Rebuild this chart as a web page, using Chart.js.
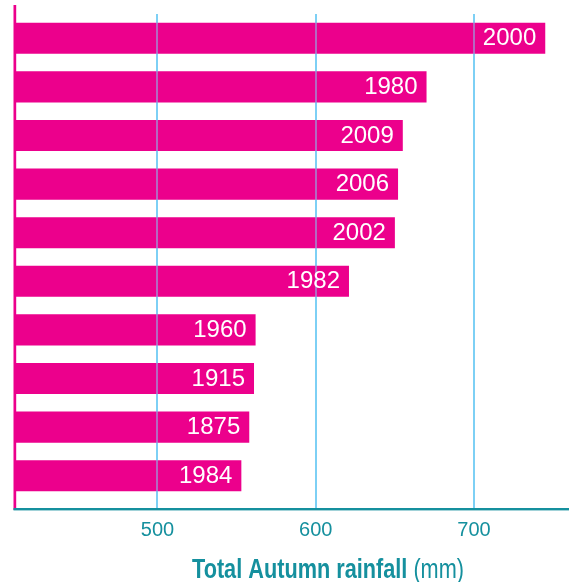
<!DOCTYPE html>
<html>
<head>
<meta charset="utf-8">
<script src="https://cdn.jsdelivr.net/npm/chart.js@4.4.1/dist/chart.umd.min.js"></script>
<style>
  html, body { margin: 0; padding: 0; background: #ffffff; }
  #wrap { width: 569px; height: 582px; position: relative; }
</style>
</head>
<body>
<div id="wrap"><canvas id="c" width="569" height="582"></canvas></div>
<script>
// ---- data ----
const years = ['2000', '1980', '2009', '2006', '2002', '1982', '1960', '1915', '1875', '1984'];
const rainfall = [745, 670, 655, 652, 650, 621, 562, 561, 558, 553];
const xTicks = [500, 600, 700];
const axisTitleBold = 'Total Autumn rainfall';
const axisTitleUnit = '(mm)';

const MAGENTA = '#EC008C';
const GRID = '#7DD0F5';
const TEAL = '#15909E';

const decorations = {
  id: 'decorations',
  beforeDatasetsDraw(chart) {
    const { ctx, chartArea } = chart;
    const x = chart.scales.x;
    ctx.save();
    ctx.strokeStyle = GRID;
    ctx.lineWidth = 2;
    x.ticks.forEach(t => {
      const px = Math.round(x.getPixelForValue(t.value));
      ctx.beginPath();
      ctx.moveTo(px, chartArea.top);
      ctx.lineTo(px, chartArea.bottom + 9);
      ctx.stroke();
    });
    ctx.restore();
  },
  afterDatasetsDraw(chart) {
    const { ctx, chartArea } = chart;
    const x = chart.scales.x;
    ctx.save();
    // gridlines seen through bars
    ctx.globalAlpha = 0.5;
    ctx.strokeStyle = GRID;
    ctx.lineWidth = 2;
    x.ticks.forEach(t => {
      const px = Math.round(x.getPixelForValue(t.value));
      ctx.beginPath();
      ctx.moveTo(px, chartArea.top);
      ctx.lineTo(px, chartArea.bottom + 9);
      ctx.stroke();
    });
    ctx.globalAlpha = 1;
    // bar labels
    const meta = chart.getDatasetMeta(0);
    ctx.fillStyle = '#ffffff';
    ctx.font = '24px "Liberation Sans", Arial, sans-serif';
    ctx.textAlign = 'right';
    ctx.textBaseline = 'alphabetic';
    meta.data.forEach((bar, i) => {
      ctx.fillText(chart.data.labels[i], bar.x - 9, bar.y + 7);
    });
    // left axis line (magenta)
    ctx.fillStyle = MAGENTA;
    ctx.fillRect(chartArea.left - 1.5, 5, 2.7, chartArea.bottom + 10 - 5);
    // bottom axis line (teal)
    ctx.fillStyle = TEAL;
    ctx.fillRect(chartArea.left - 1.5, chartArea.bottom + 8, chartArea.right - chartArea.left + 2, 2.4);
    // axis title (condensed look via horizontal scale)
    ctx.textAlign = 'left';
    ctx.fillStyle = TEAL;
    const startX = 192;
    const baseY = 578;
    const targetW = 272;
    const boldFont = 'bold 27px "Liberation Sans", Arial, sans-serif';
    const regFont = '27px "Liberation Sans", Arial, sans-serif';
    ctx.font = boldFont;
    const wBold = ctx.measureText(axisTitleBold + ' ').width;
    ctx.font = regFont;
    const wReg = ctx.measureText(axisTitleUnit).width;
    const sx = targetW / (wBold + wReg);
    ctx.translate(startX, baseY);
    ctx.scale(sx, 1);
    ctx.font = boldFont;
    ctx.fillText(axisTitleBold, 0, 0);
    ctx.font = regFont;
    ctx.fillText(axisTitleUnit, wBold, 0);
    ctx.restore();
  }
};

new Chart(document.getElementById('c'), {
  type: 'bar',
  data: {
    labels: years,
    datasets: [{
      data: rainfall,
      backgroundColor: MAGENTA,
      borderWidth: 0,
      categoryPercentage: 1.0,
      barPercentage: 0.64
    }]
  },
  options: {
    indexAxis: 'y',
    responsive: false,
    animation: false,
    devicePixelRatio: 1,
    layout: { padding: { left: 15, right: 0, top: 14, bottom: 22 } },
    plugins: { legend: { display: false }, tooltip: { enabled: false } },
    scales: {
      y: {
        type: 'category',
        display: false,
        offset: true,
        grid: { display: false }
      },
      x: {
        type: 'linear',
        min: 410,
        max: 760,
        grid: { display: false, drawTicks: false },
        border: { display: false },
        afterBuildTicks(scale) {
          scale.ticks = xTicks.map(v => ({ value: v }));
        },
        ticks: {
          padding: 18,
          color: TEAL,
          font: { family: '"Liberation Sans", Arial, sans-serif', size: 20 },
          callback: v => String(v)
        }
      }
    }
  },
  plugins: [decorations]
});
</script>
</body>
</html>
